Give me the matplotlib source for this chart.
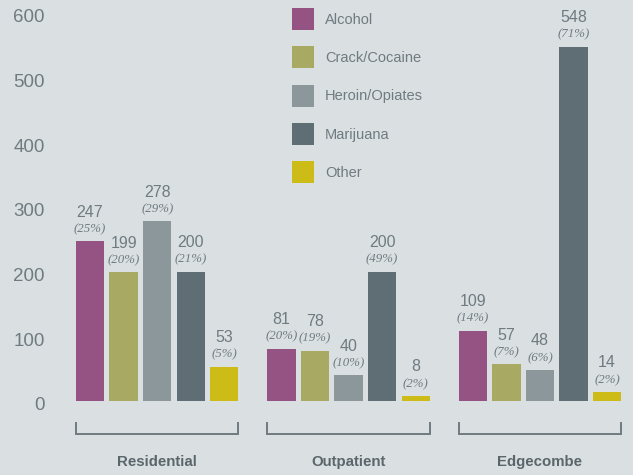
import numpy as np
import matplotlib.pyplot as plt
from matplotlib.patches import Patch
from matplotlib.transforms import ScaledTranslation

# data
groups = ['Residential', 'Outpatient', 'Edgecombe']
drugs = ['Alcohol', 'Crack/Cocaine', 'Heroin/Opiates', 'Marijuana', 'Other']
colors = ['#955383', '#a8aa63', '#8c979c', '#5f6e75', '#cdbb17']
counts = [
    [247, 199, 278, 200, 53],
    [81, 78, 40, 200, 8],
    [109, 57, 48, 548, 14],
]
pcts = [
    ['25%', '20%', '29%', '21%', '5%'],
    ['20%', '19%', '10%', '49%', '2%'],
    ['14%', '7%', '6%', '71%', '2%'],
]
yticks = [0, 100, 200, 300, 400, 500, 600]

bg = '#dadfe1'
txt = '#6f7b81'
dark = '#5a666c'

plt.rcParams['font.family'] = ['Liberation Sans', 'DejaVu Sans']

fig = plt.figure(figsize=(6.33, 4.75), dpi=100, facecolor=bg)
W, H = 633, 475
ax = fig.add_axes([60 / W, 74 / H, 573 / W, 388 / H])
ax.set_facecolor(bg)

group_gap = 5.7
width = 0.84
ax.set_xlim(-0.894, 16.17)
ax.set_ylim(0, 600)

for g, grp in enumerate(groups):
    base = g * group_gap
    xs = base + np.arange(len(drugs))
    ax.bar(xs, counts[g], width=width, color=colors, zorder=2)
    for x, v, p in zip(xs, counts[g], pcts[g]):
        ax.text(x, v + 18.5, f'({p})', ha='center', va='center', fontsize=9.3,
                style='italic', family='Liberation Serif', color=txt)
        ax.text(x, v + 45, str(v), ha='center', va='center', fontsize=11.5, color=txt)
    # bracket under each group
    x0, x1 = xs[0] - width / 2, xs[-1] + width / 2
    ax.plot([x0, x0, x1, x1], [-34, -51, -51, -34], color=txt, lw=1.4,
            clip_on=False, solid_joinstyle='miter')
    ax.text((x0 + x1) / 2, -94, grp, ha='center', va='center', fontsize=10.8,
            fontweight='bold', color=dark, clip_on=False)

ax.set_yticks(yticks)
ax.set_yticklabels([str(t) for t in yticks], fontsize=13.5, color=txt)
ax.tick_params(axis='y', length=0, pad=11)
ax.tick_params(axis='x', length=0, labelbottom=False)
shift = ScaledTranslation(0, -0.03, fig.dpi_scale_trans)
for lab in ax.get_yticklabels():
    lab.set_transform(lab.get_transform() + shift)
for s in ax.spines.values():
    s.set_visible(False)

handles = [Patch(facecolor=c, edgecolor='none') for c in colors]
leg = ax.legend(handles, drugs, loc='upper left',
                bbox_to_anchor=(292 / W, 1 - 8 / H), bbox_transform=fig.transFigure,
                frameon=False, fontsize=10.5, handlelength=1.5, handleheight=1.94,
                handletextpad=0.75, labelspacing=1.12, borderpad=0, borderaxespad=0)
for t in leg.get_texts():
    t.set_color(txt)

fig.savefig('out.png', dpi=100, facecolor=bg)
